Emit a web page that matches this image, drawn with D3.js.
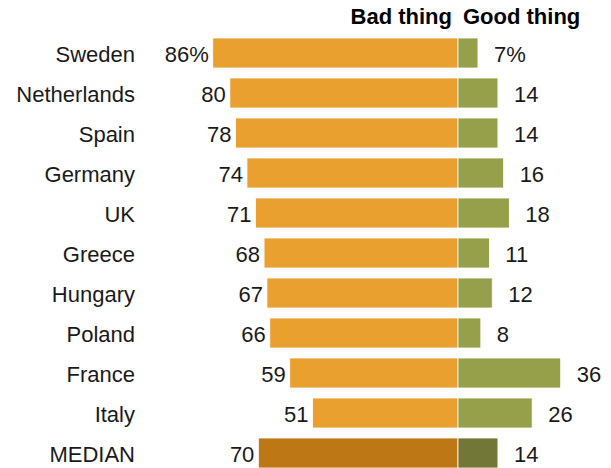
<!DOCTYPE html>
<html>
<head>
<meta charset="utf-8">
<script src="https://cdn.jsdelivr.net/npm/d3@7"></script>
<style>
  body { margin: 0; background: #fff; }
  text { font-family: "Liberation Sans", Arial, sans-serif; fill: #1a1a1a; }
  .head { font-weight: bold; font-size: 22px; fill: #000; }
</style>
</head>
<body>
<svg width="611" height="468"></svg>
<script>
var countries = ["Sweden", "Netherlands", "Spain", "Germany", "UK", "Greece", "Hungary", "Poland", "France", "Italy", "MEDIAN"];
var bad = [86, 80, 78, 74, 71, 68, 67, 66, 59, 51, 70];
var good = [7, 14, 14, 16, 18, 11, 12, 8, 36, 26, 14];

var data = countries.map(function(c, i) { return {country: c, bad: bad[i], good: good[i]}; });

var svg = d3.select("svg");

var zero = 458, unit = 2.852;
var x = d3.scaleLinear().domain([-100, 100]).range([zero - 100 * unit, zero + 100 * unit]);
var y = d3.scaleBand().domain(countries).range([33, 473]).paddingInner(0.25).paddingOuter(0.125);

var colors = {
  bad: "#e9a02f", good: "#96a04a",
  badMed: "#bd7714", goodMed: "#727636"
};

svg.append("text").attr("class", "head")
    .attr("x", 452).attr("y", 24).attr("text-anchor", "end").text("Bad thing");
svg.append("text").attr("class", "head")
    .attr("x", 463).attr("y", 24).text("Good thing");

var row = svg.selectAll(".row")
    .data(data)
  .enter().append("g")
    .attr("class", "row")
    .attr("transform", function(d) { return "translate(0," + y(d.country) + ")"; });

var bh = y.bandwidth();

row.append("rect")
    .attr("x", function(d) { return x(-d.bad); })
    .attr("y", 0)
    .attr("width", function(d) { return zero - x(-d.bad); })
    .attr("height", bh)
    .attr("fill", function(d) { return d.country == "MEDIAN" ? colors.badMed : colors.bad; })
    .attr("stroke", "#fff").attr("stroke-width", 0.8);

row.append("rect")
    .attr("x", zero)
    .attr("y", 0)
    .attr("width", function(d) { return x(d.good) - zero; })
    .attr("height", bh)
    .attr("fill", function(d) { return d.country == "MEDIAN" ? colors.goodMed : colors.good; })
    .attr("stroke", "#fff").attr("stroke-width", 0.8);

row.append("text")
    .attr("x", 135)
    .attr("y", bh / 2)
    .attr("dy", "0.4em")
    .attr("text-anchor", "end")
    .style("font-size", "22px")
    .text(function(d) { return d.country; });

row.append("text")
    .attr("x", function(d) { return x(-d.bad) - 4; })
    .attr("y", bh / 2)
    .attr("dy", "0.4em")
    .attr("text-anchor", "end")
    .style("font-size", "22px")
    .text(function(d, i) { return i == 0 ? d.bad + "%" : d.bad; });

row.append("text")
    .attr("x", function(d) { return x(d.good) + 16; })
    .attr("y", bh / 2)
    .attr("dy", "0.4em")
    .style("font-size", "22px")
    .text(function(d, i) { return i == 0 ? d.good + "%" : d.good; });
</script>
</body>
</html>
